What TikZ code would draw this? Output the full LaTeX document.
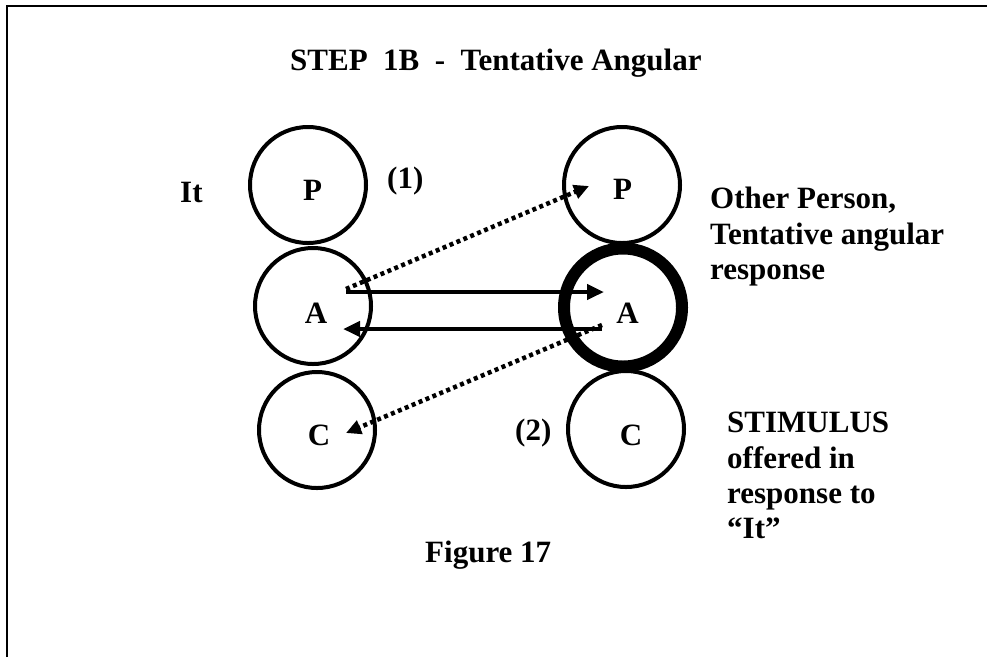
\documentclass[tikz,border=0pt]{standalone}
\usepackage{fontspec}
\setmainfont{Liberation Serif}
\usetikzlibrary{arrows.meta}
\begin{document}
\begin{tikzpicture}[x=1pt,y=-1pt,
  txt/.style={font=\fontsize{31}{35.3}\selectfont\bfseries, inner sep=0pt, align=left},
  ring/.style={draw, circle, line width=4pt, minimum size=116pt, inner sep=0pt},
  thickring/.style={draw, circle, line width=12pt, minimum size=118pt, inner sep=0pt},
  solidarrow/.style={line width=4.5pt, -{Triangle[length=17pt,width=15pt]}},
  dotarrow/.style={line width=4.5pt, dash pattern=on 4pt off 3.5pt, -{Triangle[length=15pt,width=14pt]}},
  frame/.style={line width=2pt}]
\useasboundingbox (0,0) rectangle (987,657);
% frame (top and left edges)
\coordinate (fb) at (7,657);
\coordinate (fc) at (7,6);
\coordinate (fr) at (987,6);
\draw[frame] (fb) -- (fc) -- (fr);
% title
\node[txt, anchor=base west] (title) at (290,70) {STEP\ \ 1B\ \ -\ \ Tentative Angular};
% circles
\node[ring] (lP) at (308,185) {};
\node[ring] (lA) at (313,306) {};
\node[ring] (lC) at (317,430) {};
\node[ring] (rP) at (622,185) {};
\node[thickring] (rA) at (623,307.5) {};
\node[ring] (rC) at (626,429) {};
% letters
\node[txt, anchor=base] (tlP) at (312.5,200) {P};
\node[txt, anchor=base] (tlA) at (316,323) {A};
\node[txt, anchor=base] (tlC) at (319,445) {C};
\node[txt, anchor=base] (trP) at (622.5,199) {P};
\node[txt, anchor=base] (trA) at (627.5,323) {A};
\node[txt, anchor=base] (trC) at (631,445) {C};
% side labels
\node[txt, anchor=base west] (it) at (180,202) {It};
\node[txt, anchor=base west] (one) at (387,188) {(1)};
\node[txt, anchor=base west] (two) at (515,440) {(2)};
\node[txt, anchor=north west] (other) at (710,187) {Other Person,\\Tentative angular\\response};
\node[txt, anchor=north west] (stim) at (727,412) {STIMULUS\\offered in\\response to\\“It”};
\node[txt, anchor=base west] (fig) at (425,562) {Figure 17};
% arrow end points
\coordinate (s1) at (346,292);
\coordinate (e1) at (604,292);
\coordinate (s2) at (602,329);
\coordinate (e2) at (343,329);
\coordinate (d1s) at (346,289);
\coordinate (d1e) at (589,186);
\coordinate (d2s) at (602,325);
\coordinate (d2e) at (346,433);
% arrows
\draw[solidarrow] (s1) -- (e1);
\draw[solidarrow] (s2) -- (e2);
\draw[dotarrow] (d1s) -- (d1e);
\draw[dotarrow] (d2s) -- (d2e);
\end{tikzpicture}
\end{document}
